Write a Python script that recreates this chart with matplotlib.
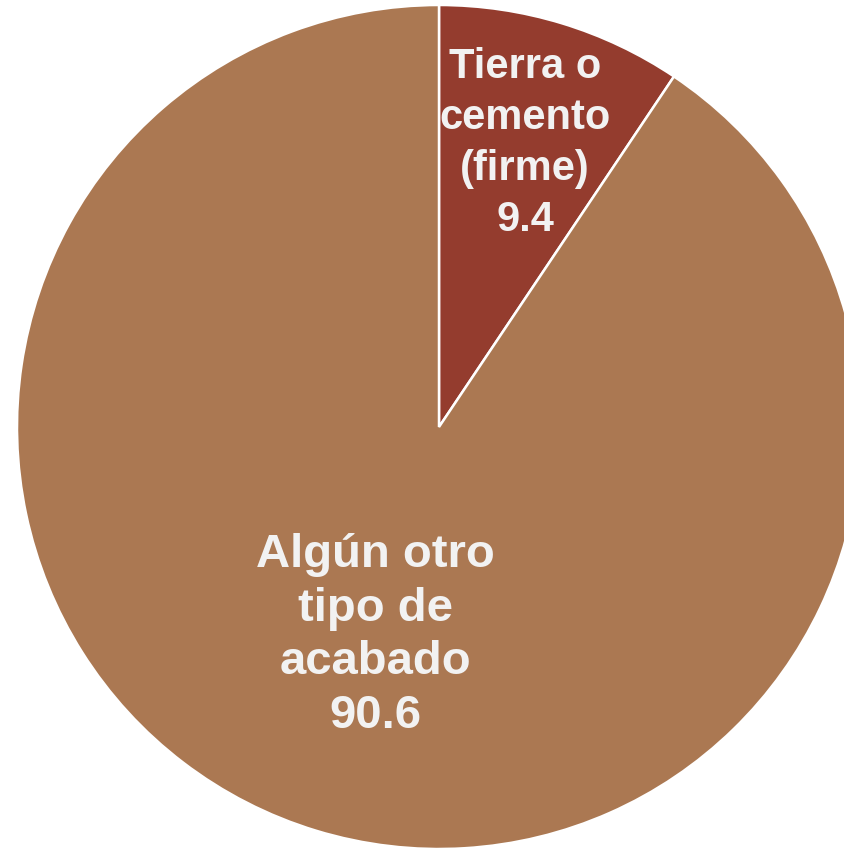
import matplotlib
matplotlib.use("Agg")
import matplotlib.pyplot as plt
import numpy as np

categories = ["Tierra o\ncemento\n(firme)", "Algún otro\ntipo de\nacabado"]
values = [9.4, 90.6]
value_labels = ["9.4", "90.6"]

colors = ["#943C2E", "#AB7852"]
label_dist = [0.702, 0.516]
label_size = [30, 34]
label_spacing = [1.35, 1.28]

W, H = 844, 848
fig = plt.figure(figsize=(W / 100, H / 100), dpi=100)
ax = fig.add_axes([0, 0, 1, 1])
cx, cy_top, R = 439, 427, 422
cy = H - cy_top

wedges, _ = ax.pie(values, startangle=90, counterclock=False, colors=colors,
                   radius=1.0, wedgeprops=dict(edgecolor="white", linewidth=1.8))

for w, cat, vl, d, fs, ls in zip(wedges, categories, value_labels, label_dist,
                                 label_size, label_spacing):
    ang = np.deg2rad((w.theta1 + w.theta2) / 2)
    ax.text(d * np.cos(ang), d * np.sin(ang), f"{cat}\n{vl}", ha="center", va="center",
            color="#F2F2F2", fontsize=fs, fontweight="bold", family="Liberation Sans",
            linespacing=ls)

ax.set_xlim((0 - cx) / R, (W - cx) / R)
ax.set_ylim((0 - cy) / R, (H - cy) / R)
ax.set_aspect("auto")
ax.axis("off")
fig.savefig("out.png", dpi=100)
